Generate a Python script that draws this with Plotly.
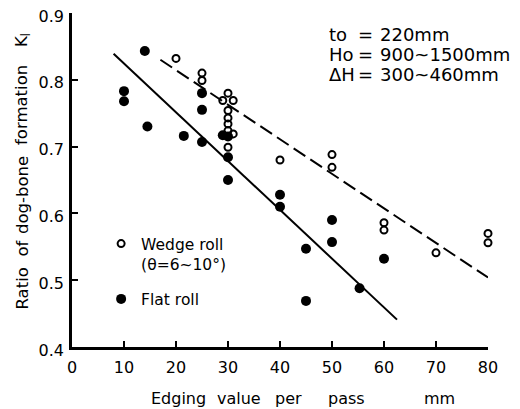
import plotly.graph_objects as go

# Data
wedge_x = [20, 25, 25, 30, 29, 31, 30, 30, 30, 30, 31, 30, 40, 50, 50, 60, 60, 70, 80, 80]
wedge_y = [0.832, 0.810, 0.799, 0.780, 0.769, 0.769, 0.754, 0.743, 0.734, 0.724, 0.719, 0.699,
           0.680, 0.688, 0.669, 0.586, 0.575, 0.541, 0.570, 0.556]

flat_x = [10, 10, 14, 14.5, 21.5, 25, 25, 25, 29, 30, 30, 30, 40, 40, 45, 45, 50, 50, 55.3, 60]
flat_y = [0.783, 0.768, 0.843, 0.730, 0.716, 0.780, 0.755, 0.707, 0.717, 0.715, 0.684, 0.650,
          0.628, 0.610, 0.547, 0.469, 0.590, 0.557, 0.488, 0.532]

flat_fit_x = [8, 62.5]
flat_fit_y = [0.839, 0.441]
wedge_fit_x = [17, 80]
wedge_fit_y = [0.830, 0.504]

x_ticks = [0, 10, 20, 30, 40, 50, 60, 70, 80]
y_ticks = [0.4, 0.5, 0.6, 0.7, 0.8, 0.9]

FONT = "DejaVu Sans"

# page offset (browser body margin) compensation: page px -> paper coords
PL, PB, PW, PH = 72.0, 347.0, 416.0, 334.0


def px(xp):
    return (xp - PL) / PW


def py(yp):
    return (PB - yp) / PH


fig = go.Figure()

fig.add_trace(go.Scatter(x=flat_fit_x, y=flat_fit_y, mode="lines",
                         line=dict(color="black", width=2), showlegend=False,
                         cliponaxis=False))
fig.add_trace(go.Scatter(x=wedge_fit_x, y=wedge_fit_y, mode="lines",
                         line=dict(color="black", width=2, dash="14px,6px"), showlegend=False,
                         cliponaxis=False))

fig.add_trace(go.Scatter(x=wedge_x, y=wedge_y, mode="markers", name="Wedge roll<br>(θ=6~10°)",
                         legendgroup="a",
                         marker=dict(symbol="circle-open", size=7, color="black",
                                     line=dict(width=2, color="black")),
                         cliponaxis=False))
fig.add_trace(go.Scatter(x=flat_x, y=flat_y, mode="markers", name="Flat roll",
                         legendgroup="b",
                         marker=dict(symbol="circle", size=10, color="black"),
                         cliponaxis=False))

fig.update_layout(
    width=512, height=401,
    margin=dict(l=64, r=32, t=5, b=62, autoexpand=False),
    paper_bgcolor="white", plot_bgcolor="white",
    font=dict(family=FONT, color="black", size=14),
    legend=dict(x=0.07, y=py(227), xanchor="left", yanchor="top", valign="top",
                bgcolor="rgba(0,0,0,0)", font=dict(size=15.5), tracegroupgap=12,
                itemwidth=30),
    xaxis=dict(range=[0, 80], tickvals=x_ticks, ticktext=[str(v) for v in x_ticks],
               ticks="inside", ticklen=6, tickwidth=1.5, tickcolor="black",
               showline=True, linecolor="black", linewidth=2.5, showgrid=False,
               zeroline=False, tickfont=dict(size=16), ticklabelstandoff=4,
               ticklabeloverflow="allow", automargin=False),
    yaxis=dict(range=[0.4, 0.9], tickvals=y_ticks, ticktext=[f"{v:.1f}" for v in y_ticks],
               ticks="inside", ticklen=6, tickwidth=1.5, tickcolor="black",
               showline=True, linecolor="black", linewidth=2.5, showgrid=False,
               zeroline=False, tickfont=dict(size=16), ticklabelstandoff=2,
               ticklabelshift=3,
               ticklabeloverflow="allow", automargin=False),
)

# X axis title (word by word to mimic the wide spacing)
x_words = ["Edging", "value", "per", "pass", "mm"]
x_word_pos = [178.5, 239, 288, 346, 439]
for w, xc in zip(x_words, x_word_pos):
    fig.add_annotation(text=w, xref="paper", yref="paper", x=px(xc), y=py(398),
                       xanchor="center", yanchor="middle", showarrow=False,
                       font=dict(size=16))

# Y axis title
y_words = ["Ratio", "of", "dog-bone", "formation", "K<sub>l</sub>"]
y_word_pos = [288.5, 248.5, 195, 105, 40]
for w, yc in zip(y_words, y_word_pos):
    fig.add_annotation(text=w, xref="paper", yref="paper", x=px(22), y=py(yc),
                       xanchor="center", yanchor="middle", textangle=-90, showarrow=False,
                       font=dict(size=16.5))

# Conditions text
labels = ["to", "Ho", "ΔH"]
values = ["220mm", "900~1500mm", "300~460mm"]
ys = [35, 54, 74]
for lab, val, yy in zip(labels, values, ys):
    fig.add_annotation(text=lab, xref="paper", yref="paper", x=px(327), y=py(yy),
                       xanchor="left", yanchor="middle", showarrow=False, font=dict(size=18))
    fig.add_annotation(text="=", xref="paper", yref="paper", x=px(365), y=py(yy),
                       xanchor="center", yanchor="middle", showarrow=False, font=dict(size=18))
    fig.add_annotation(text=val, xref="paper", yref="paper", x=px(378), y=py(yy),
                       xanchor="left", yanchor="middle", showarrow=False, font=dict(size=18))

fig.write_html("out.html")
